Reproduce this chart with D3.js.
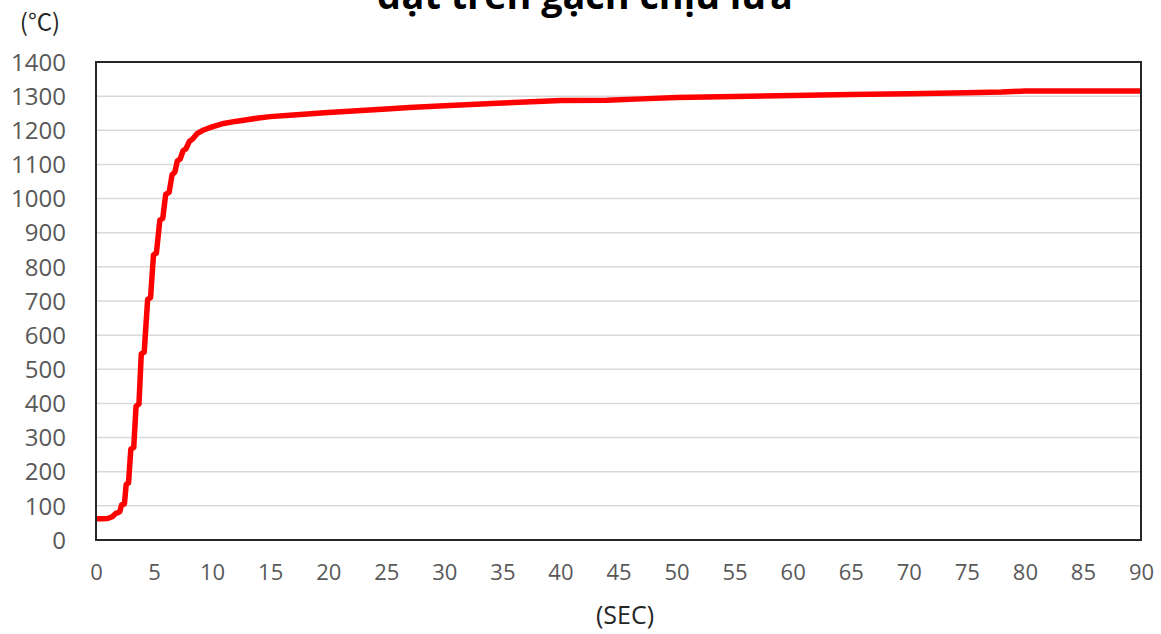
<!DOCTYPE html>
<html><head><meta charset="utf-8">
<script src="https://cdn.jsdelivr.net/npm/d3@7"></script>
<style>html,body{margin:0;padding:0;background:#fff;overflow:hidden}svg{display:block}</style>
</head><body>
<svg id="chart" width="1161" height="634"></svg>
<script>
const titleText = "đặt trên gạch chịu lửa";
const yUnit = "(°C)";
const xUnit = "(SEC)";
const xTicks = [0,5,10,15,20,25,30,35,40,45,50,55,60,65,70,75,80,85,90];
const yTicks = [0,100,200,300,400,500,600,700,800,900,1000,1100,1200,1300,1400];
const timeSec = [0,0.5,1.0,1.4,1.7,1.9,2.05,2.2,2.45,2.6,2.8,3.0,3.25,3.45,3.7,3.9,4.15,4.45,4.7,4.95,5.2,5.5,5.75,6.0,6.3,6.55,6.8,7.0,7.25,7.5,7.75,8.05,8.3,8.7,9.2,10,11,12,13,14,15,17,20,25,27,30,35,40,44,47,50,55,60,65,70,75,78,80,82,85,88,90];
const tempC  = [62,62,63,68,78,80,83,103,106,163,167,266,271,392,398,545,550,705,710,835,840,937,942,1012,1018,1070,1078,1110,1116,1140,1146,1168,1174,1190,1200,1210,1220,1226,1231,1236,1240,1245,1252,1262,1267,1272,1280,1287,1288,1292,1296,1299,1302,1305,1307,1310,1312,1315,1315,1315,1315,1315];

const svg = d3.select("#chart");
const pL = 96, pR = 1141, pT = 62, pB = 540;
const x = d3.scaleLinear().domain([0,90]).range([pL,pR]);
const y = d3.scaleLinear().domain([0,1400]).range([pB,pT]);

// gridlines
svg.append("g").selectAll("line").data(yTicks.filter(d=>d>0&&d<1400)).join("line")
  .attr("x1",pL).attr("x2",pR).attr("y1",d=>y(d)).attr("y2",d=>y(d))
  .attr("stroke","#d9d9d9").attr("stroke-width",1.5);

// y axis labels
const yAxis = d3.axisLeft(y).tickValues(yTicks).tickFormat(d3.format("d")).tickSize(0).tickPadding(30);
const gy = svg.append("g").attr("transform",`translate(${pL},0)`).call(yAxis);
gy.select(".domain").remove();
gy.selectAll("text").attr("font-family","'Open Sans', sans-serif").attr("font-size",24).attr("fill","#595959").attr("dy","0.34em");

const xAxis = d3.axisBottom(x).tickValues(xTicks).tickFormat(d3.format("d")).tickSize(0).tickPadding(24);
const gx = svg.append("g").attr("transform",`translate(0,${pB})`).call(xAxis);
gx.select(".domain").remove();
gx.selectAll("text").attr("font-family","'Open Sans', sans-serif").attr("font-size",22).attr("fill","#595959");

// line
const pts = timeSec.map((t,i)=>[t,tempC[i]]);
svg.append("path").datum(pts)
  .attr("d", d3.line().x(d=>x(d[0])).y(d=>y(d[1])))
  .attr("fill","none").attr("stroke","#ff0000").attr("stroke-width",5.5)
  .attr("stroke-linejoin","round").attr("stroke-linecap","butt");

// frame
svg.append("rect").attr("x",pL).attr("y",pT).attr("width",pR-pL).attr("height",pB-pT)
  .attr("fill","none").attr("stroke","#262626").attr("stroke-width",2);

// labels
svg.append("text").attr("x",40).attr("y",31).attr("text-anchor","middle")
  .attr("font-family","'Noto Sans CJK JP', 'Open Sans', sans-serif").attr("font-size",24).attr("fill","#262626").text(yUnit);
svg.append("text").attr("x",625).attr("y",624).attr("text-anchor","middle")
  .attr("font-family","'Open Sans', sans-serif").attr("font-size",25).attr("fill","#262626").text(xUnit);

// title (top line cut off, as in the reference)
const tt = svg.append("text").attr("x",585).attr("y",9).attr("text-anchor","middle")
  .attr("font-family","'Open Sans', sans-serif").attr("font-weight","bold").attr("font-size",30)
  .attr("fill","#000").text(titleText);
const w = tt.node().getComputedTextLength();
tt.attr("font-size", 30*416/w);
</script>
</body></html>
